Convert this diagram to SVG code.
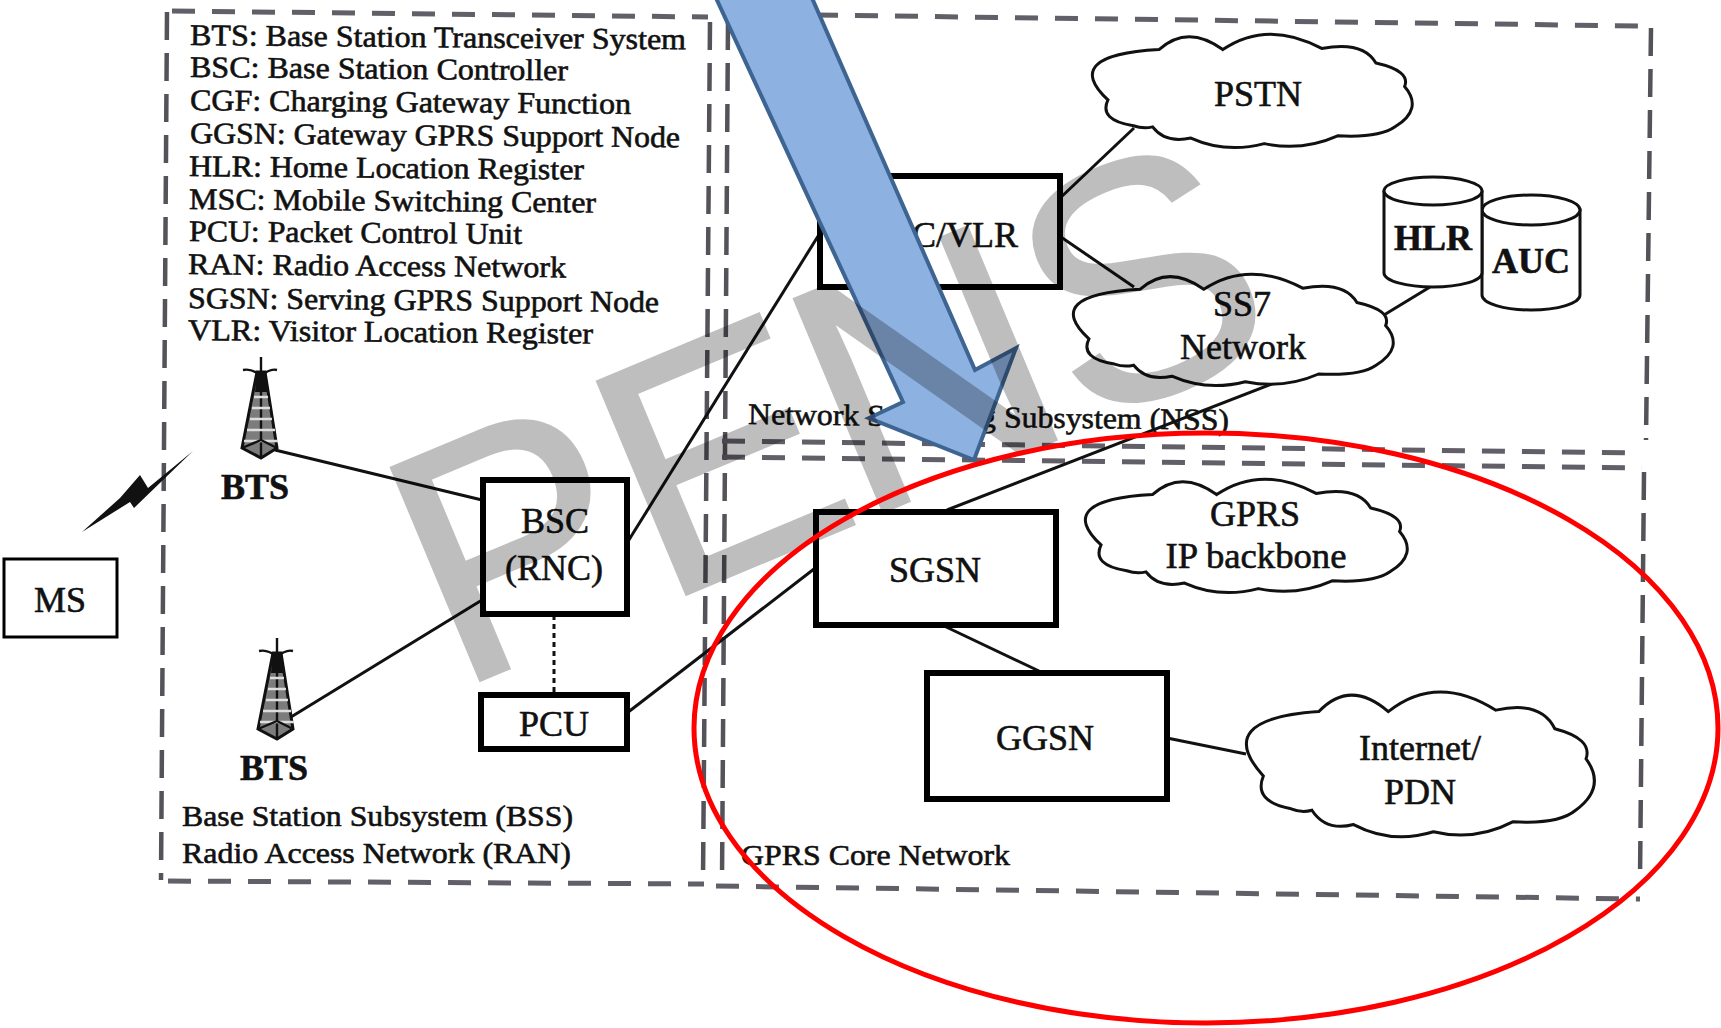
<svg xmlns="http://www.w3.org/2000/svg" xmlns:xlink="http://www.w3.org/1999/xlink" width="1721" height="1028" viewBox="0 0 1721 1028">
<style>
text{font-family:"Liberation Serif","Times New Roman",serif;fill:#111;stroke:#111;stroke-width:.6}
.lg{font-size:30px}
.sub{font-size:30px}
.c{font-size:36px;text-anchor:middle}
.b{font-size:36px;font-weight:bold;text-anchor:middle}
.box{fill:#fff;stroke:#000}
.ln{fill:none;stroke:#111;stroke-width:3}
.dash{fill:none;stroke:#625f68;stroke-width:5;stroke-dasharray:23 17}
.vd{fill:none;stroke:#55525a;stroke-width:4.5;stroke-dasharray:28 13}
.cl{fill:#fff;stroke:#111;stroke-width:3;vector-effect:non-scaling-stroke}
.cy{fill:#fff;stroke:#111;stroke-width:3}
.tw{fill:none;stroke:#111;stroke-width:2.4}
</style>
<defs>
<path id="cloud" class="cl" d="M13,81 Q2,76 5,58 Q-10,18 21,13 Q30,-10 41,13 Q55,-14 72,12 Q85,5 89,25 Q100,32 98,46 Q104,66 95,82 Q90,92 77,90 Q66,104 54,97 Q42,106 31,92 Q23,97 19,82 Q16,84 13,81 Z"/>
<g id="tower">
<path d="M261,357V372M243,370Q252,368 261,376Q270,368 277,370" class="tw" stroke-width="4"/>
<path d="M257,372L242,448L261,458L277,448L265,372Z" fill="#111" fill-opacity=".55" stroke="#111" stroke-width="3"/>
<path d="M261,372V458" class="tw"/>
<path d="M254,397H268M252,408H270M250,419H272M247,430H275M244,441H278" fill="none" stroke="#ddd" stroke-width="2.4"/>
<path d="M242,448L261,440L277,448" class="tw"/>
<path d="M257,372L265,372L267,392L255,392Z" fill="#111"/>
</g>
</defs>
<rect width="1721" height="1028" fill="#fff"/>

<g id="regions">
<path class="dash" d="M172,11L708,17"/>
<path class="vd" d="M167,12L161,880"/>
<path class="dash" d="M168,881L704,884"/>
<path class="vd" d="M710,22L703,880"/>
<path class="vd" d="M728,22L722,880"/>
<path class="dash" d="M815,15L1640,26"/>
<path class="vd" d="M1651,28L1646,440"/>
<path class="dash" d="M722,441L1640,453"/>
<path class="dash" d="M722,457L1642,468"/>
<path class="vd" d="M1644,472L1640,880"/>
<path class="dash" d="M716,886L1640,899"/>
</g>

<g id="connectors">
<path class="ln" d="M275,450L482,500"/>
<path class="ln" d="M291,717L482,600"/>
<path class="ln" d="M627,543L820,233"/>
<path class="ln" d="M627,713L814,569"/>
<path class="ln" d="M554,615V693" stroke-dasharray="5 4"/>
<path class="ln" d="M1058,200L1134,128"/>
<path class="ln" d="M1058,235L1134,287"/>
<path class="ln" d="M947,510L1274,383"/>
<path class="ln" d="M1379,318L1430,287"/>
<path class="ln" d="M942,625L1039,671"/>
<path class="ln" d="M1167,738L1246,754"/>
</g>

<g id="legend" class="lg">
<text transform="rotate(.5 190 45)" x="190" y="45" textLength="496" lengthAdjust="spacingAndGlyphs">BTS: Base Station Transceiver System</text>
<text transform="rotate(.5 190 77)" x="190" y="77" textLength="378" lengthAdjust="spacingAndGlyphs">BSC: Base Station Controller</text>
<text transform="rotate(.5 190 110)" x="190" y="110" textLength="441" lengthAdjust="spacingAndGlyphs">CGF: Charging Gateway Function</text>
<text transform="rotate(.5 190 143)" x="190" y="143" textLength="490" lengthAdjust="spacingAndGlyphs">GGSN: Gateway GPRS Support Node</text>
<text transform="rotate(.5 189 176)" x="189" y="176" textLength="395" lengthAdjust="spacingAndGlyphs">HLR: Home Location Register</text>
<text transform="rotate(.5 189 209)" x="189" y="209" textLength="407" lengthAdjust="spacingAndGlyphs">MSC: Mobile Switching Center</text>
<text transform="rotate(.5 189 241)" x="189" y="241" textLength="333" lengthAdjust="spacingAndGlyphs">PCU: Packet Control Unit</text>
<text transform="rotate(.5 188 274)" x="188" y="274" textLength="378" lengthAdjust="spacingAndGlyphs">RAN: Radio Access Network</text>
<text transform="rotate(.5 188 308)" x="188" y="308" textLength="471" lengthAdjust="spacingAndGlyphs">SGSN: Serving GPRS Support Node</text>
<text transform="rotate(.5 188 340)" x="188" y="340" textLength="405" lengthAdjust="spacingAndGlyphs">VLR: Visitor Location Register</text>
</g>

<g id="ms"><rect class="box" stroke-width="3" x="4" y="559" width="113" height="78"/><text class="c" x="60" y="612">MS</text></g>
<path id="bolt" fill="#111" d="M193,451L148,488L140,475L120,498L82,532L130,502L134,508Z"/>
<g id="bts1"><use xlink:href="#tower"/><text class="b" x="255" y="499">BTS</text></g>
<g id="bts2"><use xlink:href="#tower" transform="translate(16,281)"/><text class="b" x="274" y="780">BTS</text></g>
<g id="bsc"><rect class="box" stroke-width="6" x="483" y="480" width="144" height="134"/><text class="c" x="555" y="533">BSC</text><text class="c" x="554" y="580">(RNC)</text></g>
<g id="pcu"><rect class="box" stroke-width="6" x="481" y="695" width="146" height="54"/><text class="c" x="554" y="736">PCU</text></g>
<text id="bss-label" class="sub" x="182" y="826" textLength="391" lengthAdjust="spacingAndGlyphs">Base Station Subsystem (BSS)</text>
<text id="ran-label" class="sub" x="182" y="863" textLength="389" lengthAdjust="spacingAndGlyphs">Radio Access Network (RAN)</text>

<g id="msc"><rect class="box" stroke-width="6" x="820" y="176" width="240" height="111"/><text class="c" x="1018" y="247" style="text-anchor:end">MSC/VLR</text></g>
<g id="pstn"><use xlink:href="#cloud" transform="translate(1092,35) scale(3.19,1.12)"/><text class="c" x="1258" y="106">PSTN</text></g>
<g id="ss7"><use xlink:href="#cloud" transform="translate(1073,275) scale(3.19,1.1)"/><text class="c" x="1242" y="316">SS7</text><text class="c" x="1243" y="359" textLength="126" lengthAdjust="spacingAndGlyphs">Network</text></g>
<g id="auc"><path class="cy" d="M1482,210V295A49,15 0 0 0 1580,295V210Z"/><ellipse class="cy" cx="1531" cy="210" rx="49" ry="15"/><text class="b" x="1531" y="273">AUC</text></g>
<g id="hlr"><path class="cy" d="M1384,192V273A49,14 0 0 0 1482,273V192Z"/><ellipse class="cy" cx="1433" cy="191" rx="49" ry="14"/><text class="b" x="1433" y="250">HLR</text></g>
<text id="nss-label" class="sub" x="748" y="424" textLength="481" lengthAdjust="spacingAndGlyphs" transform="rotate(.7 748 424)">Network Switching Subsystem (NSS)</text>

<g id="sgsn"><rect class="box" stroke-width="6" x="816" y="512" width="240" height="113"/><text class="c" x="935" y="582">SGSN</text></g>
<g id="ggsn"><rect class="box" stroke-width="6" x="927" y="673" width="240" height="126"/><text class="c" x="1045" y="750">GGSN</text></g>
<g id="gprs"><use xlink:href="#cloud" transform="translate(1085,480) scale(3.21,1.12)"/><text class="c" x="1255" y="526">GPRS</text><text class="c" x="1256" y="568" textLength="181" lengthAdjust="spacingAndGlyphs">IP backbone</text></g>
<g id="internet"><use xlink:href="#cloud" transform="translate(1246,693) scale(3.47,1.43)"/><text class="c" x="1420" y="760">Internet/</text><text class="c" x="1420" y="804">PDN</text></g>
<text id="core-label" class="sub" x="741" y="865" textLength="269" lengthAdjust="spacingAndGlyphs">GPRS Core Network</text>

<polygon id="arrow" points="716,-2 812,-2 975,370 1016,348 974,460 869,418 903,402" fill="#8db1e1" stroke="#3e6491" stroke-width="4"/>
<text id="watermark" x="455" y="691" dx="0 0 -10 0" transform="rotate(-22.7 455 691)" style="font-family:'Liberation Sans',Arial,sans-serif;font-size:335px;fill:#000;stroke:#000;stroke-width:3;opacity:.25">PENS</text>
<ellipse id="highlight" cx="1206" cy="728" rx="512" ry="295" fill="none" stroke="#f00" stroke-width="5"/>
</svg>
